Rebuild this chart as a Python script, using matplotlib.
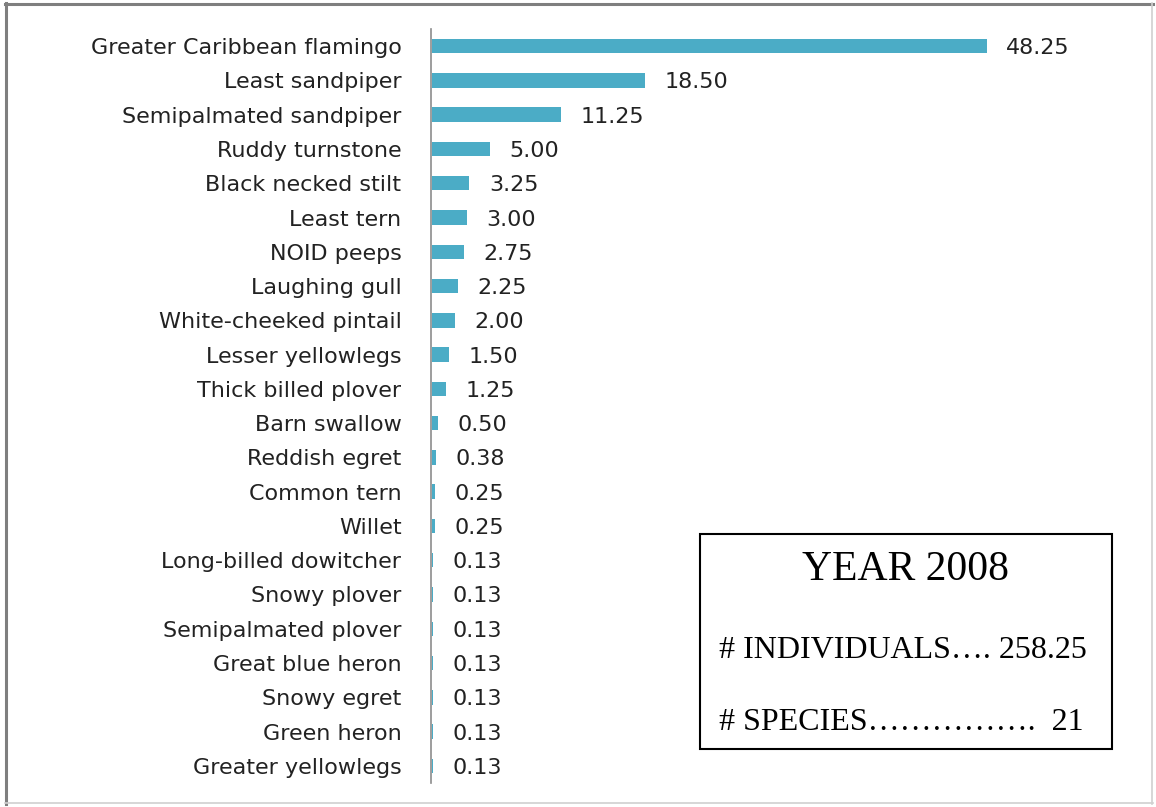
import matplotlib
matplotlib.use("Agg")
import matplotlib.pyplot as plt
from matplotlib.lines import Line2D
from matplotlib.patches import Rectangle

species = ["Greater Caribbean flamingo", "Least sandpiper", "Semipalmated sandpiper",
           "Ruddy turnstone", "Black necked stilt", "Least tern", "NOID peeps",
           "Laughing gull", "White-cheeked pintail", "Lesser yellowlegs",
           "Thick billed plover", "Barn swallow", "Reddish egret", "Common tern",
           "Willet", "Long-billed dowitcher", "Snowy plover", "Semipalmated plover",
           "Great blue heron", "Snowy egret", "Green heron", "Greater yellowlegs"]
counts = [48.25, 18.50, 11.25, 5.00, 3.25, 3.00, 2.75, 2.25, 2.00, 1.50, 1.25,
          0.50, 0.38, 0.25, 0.25, 0.13, 0.13, 0.13, 0.13, 0.13, 0.13, 0.13]

year_text = "YEAR 2008"
individuals_text = "# INDIVIDUALS\u2026. 258.25"
species_text = "# SPECIES\u2026\u2026\u2026\u2026\u2026.  21"

W, H = 1156, 807
fig = plt.figure(figsize=(W / 100, H / 100), dpi=100)
fig.patch.set_facecolor("white")

# plot area in pixel terms
left, right, top, bottom = 432, 1100, 29, 783
ax = fig.add_axes([left / W, 1 - bottom / H, (right - left) / W, (bottom - top) / H])

# spine first: moving it resets the ticks
for s in ["top", "right", "bottom"]:
    ax.spines[s].set_visible(False)
ax.spines["left"].set_position(("outward", 1))
ax.spines["left"].set_color("#8c8c8c")
ax.spines["left"].set_linewidth(1.2)

y = list(range(len(species)))
ax.barh(y, counts, height=0.42, color="#4BACC6", zorder=3)
ax.set_ylim(len(species) - 0.5, -0.5)
ax.set_xlim(0, (right - left) / 11.5)

label_font = dict(family="DejaVu Sans", fontsize=16, color="#222222")

ax.set_yticks(y)
ax.tick_params(axis="y", length=0, pad=21)
ax.set_yticklabels(species, **label_font)
ax.set_xticks([])

for yi, v in zip(y, counts):
    ax.annotate(f"{v:.2f}", (v, yi), xytext=(14, 0), textcoords="offset points",
                va="center_baseline", ha="left", **label_font)

# summary box
def fx(px):
    return px / W

def fy(py):
    return 1 - py / H

fig.add_artist(Rectangle((fx(700), fy(749)), fx(1112) - fx(700), fy(534) - fy(749),
                         transform=fig.transFigure, fill=False, edgecolor="black",
                         linewidth=1.5))
fig.text(fx(906), fy(570), year_text, ha="center", va="center", fontsize=30,
         family="Liberation Serif")
fig.text(fx(719), fy(650), individuals_text, ha="left", va="center", fontsize=23,
         family="Liberation Serif")
fig.text(fx(719), fy(722), species_text, ha="left", va="center", fontsize=23,
         family="Liberation Serif")

# outer frame
fig.add_artist(Line2D([fx(5), fx(1153)], [fy(4), fy(4)], color="#7f7f7f", linewidth=2.2))
fig.add_artist(Line2D([fx(6), fx(6)], [fy(3), fy(804)], color="#7f7f7f", linewidth=2.2))
fig.add_artist(Line2D([fx(1152), fx(1152)], [fy(3), fy(804)], color="#d0d0d0", linewidth=1.2))
fig.add_artist(Line2D([fx(5), fx(1153)], [fy(803), fy(803)], color="#d0d0d0", linewidth=1.2))

fig.savefig("out.png", dpi=100, facecolor="white")
